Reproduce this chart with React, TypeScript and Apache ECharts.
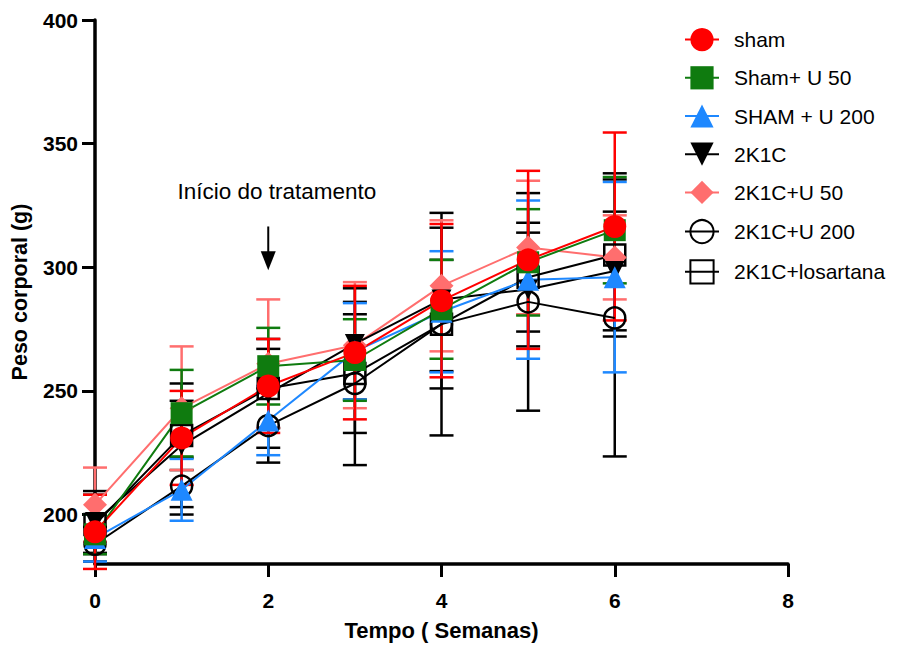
import React, { useEffect, useRef } from "react";
import * as echarts from "echarts";

const weeks = [0, 1, 2, 3, 4, 5, 6];
const xTicks = [0, 2, 4, 6, 8];
const yTicks = [200, 250, 300, 350, 400];

const names = [
  "sham",
  "Sham+ U 50",
  "SHAM + U 200",
  "2K1C",
  "2K1C+U 50",
  "2K1C+U 200",
  "2K1C+losartana",
];

const shamMean = [193, 231, 252, 265.5, 286.5, 303, 316.5];
const shamErr = [15, 19, 19, 27, 31, 36, 38];
const shamU50Mean = [192, 241, 260, 262.5, 283, 302, 315];
const shamU50Err = [8, 17.5, 15.5, 16.5, 20, 21.5, 21.5];
const shamU200Mean = [190.5, 210, 238, 266, 282, 295, 296];
const shamU200Err = [9.5, 12.5, 14, 19.5, 24.5, 32, 38.5];
const k2cMean = [197, 228, 249, 269, 287, 291, 298.5];
const k2cErr = [12.5, 25, 22, 22.5, 29, 23, 24];
const k2cU50Mean = [204, 243, 261, 268.5, 292.5, 308, 304];
const k2cU50Err = [15, 25, 26, 25.5, 26.5, 27, 17];
const k2cU200Mean = [188, 211.5, 236, 253, 277, 286, 279.5];
const k2cU200Err = [7, 11.5, 15, 33, 45, 44, 56];
const losMean = [196, 232, 251, 257, 277, 296, 305];
const losErr = [12, 14, 16, 24, 26, 22, 33];

const FONT = '"Liberation Sans", Arial, Helvetica, sans-serif';

type Def = {
  name: string;
  mean: number[];
  err: number[];
  color: string;
  symbol: string;
  size: number;
  rotate?: number;
  hollow?: boolean;
};

const defs: Def[] = [
  { name: names[0], mean: shamMean, err: shamErr, color: "#FF0000", symbol: "circle", size: 23 },
  { name: names[1], mean: shamU50Mean, err: shamU50Err, color: "#0F7B0F", symbol: "rect", size: 22 },
  { name: names[2], mean: shamU200Mean, err: shamU200Err, color: "#1E88FF", symbol: "triangle", size: 22 },
  { name: names[3], mean: k2cMean, err: k2cErr, color: "#000000", symbol: "triangle", size: 20, rotate: 180 },
  { name: names[4], mean: k2cU50Mean, err: k2cU50Err, color: "#FF6E6E", symbol: "diamond", size: 24 },
  { name: names[5], mean: k2cU200Mean, err: k2cU200Err, color: "#000000", symbol: "circle", size: 21, hollow: true },
  { name: names[6], mean: losMean, err: losErr, color: "#000000", symbol: "rect", size: 21, hollow: true },
];

export default function App() {
  const ref = useRef<HTMLDivElement>(null);
  useEffect(() => {
    const chart = echarts.init(ref.current!, null, { renderer: "svg" });
    const series: any[] = [];
    // draw from last to first so "sham" is on top
    for (let k = defs.length - 1; k >= 0; k--) {
      const d = defs[k];
      series.push({
        type: "custom",
        name: d.name + " (erro)",
        data: weeks.map((w, i) => [w, d.mean[i] - d.err[i], d.mean[i] + d.err[i]]),
        encode: { x: 0, y: [1, 2] },
        clip: false,
        silent: true,
        renderItem: (params: any, api: any) => {
          const x = api.value(0);
          const lo = api.coord([x, api.value(1)]);
          const hi = api.coord([x, api.value(2)]);
          const hw = 12;
          const st = { stroke: d.color, lineWidth: 2.5 };
          return {
            type: "group",
            children: [
              { type: "line", shape: { x1: lo[0], y1: lo[1], x2: hi[0], y2: hi[1] }, style: st },
              { type: "line", shape: { x1: hi[0] - hw, y1: hi[1], x2: hi[0] + hw, y2: hi[1] }, style: st },
              { type: "line", shape: { x1: lo[0] - hw, y1: lo[1], x2: lo[0] + hw, y2: lo[1] }, style: st },
            ],
          };
        },
      });
      series.push({
        type: "line",
        name: d.name,
        data: weeks.map((w, i) => [w, d.mean[i]]),
        symbol: d.symbol,
        symbolSize: d.size,
        symbolRotate: d.rotate || 0,
        showAllSymbol: true,
        lineStyle: { color: d.color, width: 2 },
        itemStyle: d.hollow
          ? { color: "rgba(0,0,0,0)", borderColor: d.color, borderWidth: 2.5 }
          : { color: d.color, borderWidth: 0 },
        emphasis: { disabled: true },
      });
    }

    const option: any = {
      animation: false,
      backgroundColor: "#ffffff",
      grid: { left: 95, right: 109, top: 20, bottom: 79, containLabel: false },
      xAxis: {
        type: "value",
        min: 0,
        max: 8,
        interval: 2,
        name: "Tempo ( Semanas)",
        nameLocation: "middle",
        nameGap: 55,
        nameTextStyle: { fontFamily: FONT, fontSize: 22, fontWeight: "bold", color: "#000" },
        axisLine: { show: true, lineStyle: { color: "#000", width: 3.5 } },
        axisTick: { show: true, length: 13, lineStyle: { color: "#000", width: 3 } },
        axisLabel: { margin: 26, fontFamily: FONT, fontSize: 21, fontWeight: "bold", color: "#000" },
        splitLine: { show: false },
      },
      yAxis: {
        type: "value",
        min: 180,
        max: 400,
        name: "Peso corporal (g)",
        nameLocation: "middle",
        nameGap: 64,
        nameTextStyle: { fontFamily: FONT, fontSize: 21.5, fontWeight: "bold", color: "#000" },
        axisLine: { show: true, lineStyle: { color: "#000", width: 3.5 } },
        axisTick: { show: true, length: 13, lineStyle: { color: "#000", width: 3 }, customValues: yTicks },
        axisLabel: {
          margin: 17,
          fontFamily: FONT,
          fontSize: 21,
          fontWeight: "bold",
          color: "#000",
          customValues: yTicks,
        },
        splitLine: { show: false },
      },
      legend: {
        orient: "vertical",
        left: 684,
        top: 28,
        padding: 0,
        itemWidth: 34,
        itemHeight: 29,
        itemGap: 15,
        data: names,
        selectedMode: false,
        textStyle: { fontFamily: FONT, fontSize: 21, color: "#000", padding: [0, 0, 0, 10] },
      },
      series,
    };
    chart.setOption(option);

    const top = chart.convertToPixel({ gridIndex: 0 }, [2, 316.5]) as number[];
    const tip = chart.convertToPixel({ gridIndex: 0 }, [2, 298.8]) as number[];
    const txt = chart.convertToPixel({ gridIndex: 0 }, [2.1, 330.5]) as number[];
    chart.setOption({
      graphic: [
        {
          type: "text",
          x: txt[0],
          y: txt[1],
          style: {
            text: "Início do tratamento",
            font: `22.5px ${FONT}`,
            fill: "#000",
            textAlign: "center",
            textVerticalAlign: "middle",
          },
        },
        {
          type: "line",
          shape: { x1: top[0], y1: top[1], x2: tip[0], y2: tip[1] - 14 },
          style: { stroke: "#000", lineWidth: 2 },
        },
        {
          type: "polygon",
          shape: { points: [[tip[0] - 7.5, tip[1] - 19], [tip[0] + 7.5, tip[1] - 19], [tip[0], tip[1]]] },
          style: { fill: "#000" },
        },
      ],
    });
    return () => chart.dispose();
  }, []);
  return (
    <div
      ref={ref}
      style={{ position: "absolute", left: 0, top: 0, width: 897, height: 646, background: "#fff" }}
    />
  );
}
